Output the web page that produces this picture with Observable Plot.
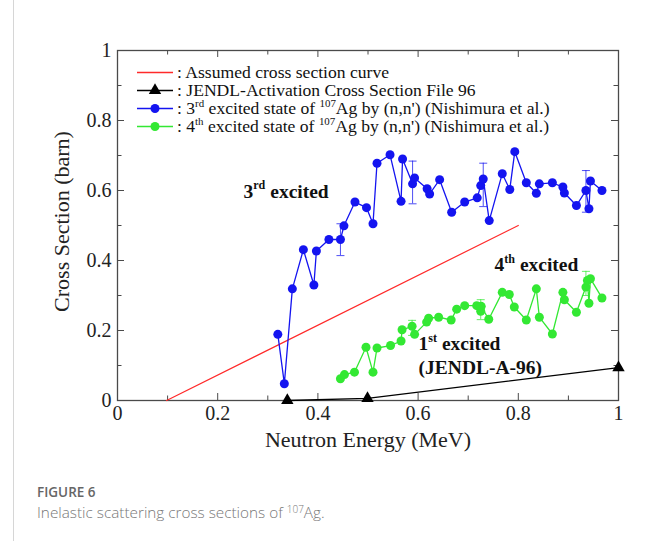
<!DOCTYPE html>
<html>
<head>
<meta charset="utf-8">
<script src="https://cdn.jsdelivr.net/npm/d3@7"></script>
<script src="https://cdn.jsdelivr.net/npm/@observablehq/plot@0.6"></script>
<style>
  body { margin: 0; background: #fff; }
  #wrap { position: relative; width: 654px; height: 541px; overflow: hidden; background: #fff; }
  #border { position: absolute; left: 13px; top: 0; width: 1px; height: 541px; background: #d6d6d6; }
  #chart { position: absolute; left: 0; top: 0; }
  #cap { position: absolute; left: 37px; top: 483px; font-family: "Open Sans", "Noto Sans", sans-serif; }
  #cap .fig { font-size: 13.5px; font-weight: 600; color: #666; line-height: 18px; }
  #cap .txt { font-size: 15.3px; font-weight: 300; color: #777; line-height: 22px; }
  #cap sup { font-size: 10px; vertical-align: 5px; line-height: 0; }
  svg text { white-space: pre; }
</style>
</head>
<body>
<div id="wrap">
  <div id="border"></div>
  <div id="chart"></div>
  <div id="cap"><div class="fig">FIGURE 6</div><div class="txt">Inelastic scattering cross sections of <sup>107</sup>Ag.</div></div>
</div>
<script>
// ---------- data ----------
const majorTicks = [0, 0.2, 0.4, 0.6, 0.8, 1];
const minorTicks = [0.1, 0.3, 0.5, 0.7, 0.9];
const tickLabels = ["0", "0.2", "0.4", "0.6", "0.8", "1"];

// Assumed cross section curve (red line)
const assumedE  = [0.098, 0.8];
const assumedXS = [0.0, 0.5];

// JENDL-Activation Cross Section File 96 (1st excited)
const jendlE  = [0.339, 0.499, 1.0];
const jendlXS = [0.0, 0.006, 0.094];

// 3rd excited state (blue)
const blueE  = [0.320,0.333,0.349,0.371,0.392,0.397,0.422,0.445,0.452,0.474,
                0.497,0.510,0.518,0.544,0.566,0.569,0.589,0.593,0.618,0.623,
                0.643,0.667,0.693,0.718,0.725,0.730,0.742,0.768,0.783,0.793,
                0.816,0.836,0.842,0.868,0.889,0.892,0.916,0.935,0.941,0.944,
                0.967];
const blueXS = [0.189,0.048,0.319,0.431,0.330,0.427,0.460,0.460,0.499,0.567,
                0.551,0.505,0.678,0.702,0.569,0.690,0.619,0.636,0.605,0.590,
                0.631,0.538,0.567,0.579,0.614,0.633,0.514,0.648,0.603,0.711,
                0.622,0.592,0.619,0.622,0.610,0.593,0.557,0.600,0.548,0.627,
                0.600];
const blueErrE  = [0.445, 0.589, 0.730, 0.935];
const blueErrLo = [0.414, 0.562, 0.554, 0.538];
const blueErrHi = [0.505, 0.684, 0.678, 0.657];

// 4th excited state (green)
const greenE  = [0.445,0.453,0.473,0.496,0.510,0.518,0.545,0.566,0.568,0.588,
                 0.593,0.617,0.621,0.641,0.666,0.677,0.693,0.717,0.725,0.726,
                 0.741,0.768,0.782,0.792,0.816,0.836,0.842,0.868,0.889,0.892,
                 0.916,0.935,0.938,0.941,0.944,0.967];
const greenXS = [0.062,0.074,0.081,0.152,0.081,0.150,0.157,0.170,0.202,0.212,
                 0.189,0.224,0.235,0.238,0.230,0.261,0.271,0.271,0.255,0.269,
                 0.232,0.309,0.303,0.267,0.230,0.319,0.238,0.190,0.309,0.288,
                 0.252,0.324,0.343,0.278,0.348,0.293];
const greenErrE  = [0.588, 0.725, 0.935];
const greenErrLo = [0.186, 0.231, 0.300];
const greenErrHi = [0.229, 0.288, 0.369];

// annotations
const annoText = ["3^{rd} excited", "4^{th} excited", "1^{st} excited", "(JENDL-A-96)"];
const annoE    = [0.2515, 0.7525, 0.601, 0.601];
const annoXS   = [0.580, 0.369, 0.143, 0.077];

// legend
const legendLabels = [
  ": Assumed cross section curve",
  ": JENDL-Activation Cross Section File 96",
  ": 3^{rd} excited state of ^{107}Ag by (n,n') (Nishimura et al.)",
  ": 4^{th} excited state of ^{107}Ag by (n,n') (Nishimura et al.)"
];

// ---------- styles ----------
const RED = "#ff2a2a", BLUE = "#1414f0", GREEN = "#33e833", BLACK = "#000";
const FRAME = "#4a4a4a";
const W = 654, H = 470, mL = 117, mR = 36, mT = 50, mB = 70;
const fw = W - mL - mR, fh = H - mT - mB;
const majX = 7 / fw, majY = 7 / fh, minX = 4.5 / fw, minY = 4.5 / fh;

const rows = (xs, ys) => xs.map((x, i) => ({x, y: ys[i]}));
const errRows = (xs, lo, hi) => xs.map((x, i) => ({x, lo: lo[i], hi: hi[i]}));
const capSymbol = { draw(ctx, size) { const r = Math.sqrt(size / Math.PI); ctx.moveTo(-r, 0); ctx.lineTo(r, 0); } };

const blueData = rows(blueE, blueXS), greenData = rows(greenE, greenXS);
const jendlData = rows(jendlE, jendlXS), assumedData = rows(assumedE, assumedXS);
const blueErr = errRows(blueErrE, blueErrLo, blueErrHi), greenErr = errRows(greenErrE, greenErrLo, greenErrHi);
const annos = annoText.map((t, i) => ({t, x: annoE[i], y: annoXS[i]}));

const errMarks = (data, color) => [
  Plot.ruleX(data, {x: "x", y1: "lo", y2: "hi", stroke: color, strokeWidth: 1, strokeOpacity: 0.75}),
  Plot.dot(data, {x: "x", y: "lo", symbol: capSymbol, r: 4, stroke: color, fill: "none", strokeWidth: 1, strokeOpacity: 0.75}),
  Plot.dot(data, {x: "x", y: "hi", symbol: capSymbol, r: 4, stroke: color, fill: "none", strokeWidth: 1, strokeOpacity: 0.75})
];

const tickRules = (ticks, len, kind) => kind === "x" ? [
  Plot.ruleX(ticks, {x: d => d, y1: 0, y2: len, stroke: FRAME, strokeWidth: 1}),
  Plot.ruleX(ticks, {x: d => d, y1: 1, y2: 1 - len, stroke: FRAME, strokeWidth: 1})
] : [
  Plot.ruleY(ticks, {y: d => d, x1: 0, x2: len, stroke: FRAME, strokeWidth: 1}),
  Plot.ruleY(ticks, {y: d => d, x1: 1, x2: 1 - len, stroke: FRAME, strokeWidth: 1})
];

const fmt = d => tickLabels[majorTicks.indexOf(d)];

const chart = Plot.plot({
  width: W, height: H,
  marginLeft: mL, marginRight: mR, marginTop: mT, marginBottom: mB,
  x: {domain: [0, 1]},
  y: {domain: [0, 1]},
  style: {fontFamily: "'Liberation Serif', 'Times New Roman', serif", fontSize: "20px", color: "#222", background: "transparent", overflow: "visible"},
  marks: [
    Plot.axisX({ticks: majorTicks, tickSize: 0, tickPadding: 5, tickFormat: fmt, label: null, fontSize: 20}),
    Plot.axisY({ticks: majorTicks, tickSize: 0, tickPadding: 6, tickFormat: fmt, label: null, fontSize: 20}),
    ...tickRules(majorTicks, majY, "x"),
    ...tickRules(minorTicks, minY, "x"),
    ...tickRules(majorTicks, majX, "y"),
    ...tickRules(minorTicks, minX, "y"),
    Plot.frame({stroke: FRAME, strokeWidth: 1.3}),
    Plot.text(["Neutron Energy (MeV)"], {frameAnchor: "bottom", dy: 46, fontSize: 22, fill: "#222"}),
    Plot.text(["Cross Section (barn)"], {frameAnchor: "left", textAnchor: "middle", dx: -56, dy: -4, rotate: -90, fontSize: 22, fill: "#222"}),
    // assumed curve
    Plot.line(assumedData, {x: "x", y: "y", stroke: RED, strokeWidth: 1.2}),
    // JENDL
    Plot.line(jendlData, {x: "x", y: "y", stroke: BLACK, strokeWidth: 1.3}),
    Plot.dot(jendlData, {x: "x", y: "y", symbol: "triangle", r: 4.6, fill: BLACK, stroke: "none"}),
    // blue
    ...errMarks(blueErr, BLUE),
    Plot.line(blueData, {x: "x", y: "y", stroke: BLUE, strokeWidth: 1.3}),
    Plot.dot(blueData, {x: "x", y: "y", r: 4.5, fill: BLUE, stroke: "none"}),
    // green
    ...errMarks(greenErr, GREEN),
    Plot.line(greenData, {x: "x", y: "y", stroke: GREEN, strokeWidth: 1.3}),
    Plot.dot(greenData, {x: "x", y: "y", r: 4.5, fill: GREEN, stroke: "none"}),
    // annotations
    Plot.text(annos, {x: "x", y: "y", text: "t", textAnchor: "start", lineAnchor: "bottom", fontWeight: "bold", fontSize: 19.5, fill: "#111"})
  ]
});

document.getElementById("chart").appendChild(chart);

const svgNS = "http://www.w3.org/2000/svg";
function setRich(el, str, fs) {
  const parts = str.split(/(\^\{[^}]*\})/);
  while (el.firstChild) el.removeChild(el.firstChild);
  const shift = 0.42 * fs;
  let raised = false;
  for (const p of parts) {
    if (!p) continue;
    const t = document.createElementNS(svgNS, "tspan");
    if (p.startsWith("^{")) {
      t.textContent = p.slice(2, -1);
      t.setAttribute("font-size", (0.62 * fs).toFixed(2));
      t.setAttribute("dy", raised ? 0 : -shift);
      raised = true;
    } else {
      t.textContent = p;
      if (raised) { t.setAttribute("dy", shift); raised = false; }
    }
    el.appendChild(t);
  }
}

// convert superscript markup in Plot text marks
d3.select(chart).selectAll("text").each(function () {
  const s = this.textContent;
  if (s.includes("^{")) setRich(this, s, parseFloat(getComputedStyle(this).fontSize));
});

// legend (inside frame, top-left)
const svg = d3.select(chart);
const LFS = 17.6;
const lg = svg.append("g")
  .attr("font-family", "'Liberation Serif', 'Times New Roman', serif")
  .attr("font-size", LFS).attr("fill", "#111").attr("text-anchor", "start");
const legendColors = [RED, BLACK, BLUE, GREEN];
const legendMarkers = [null, "triangle", "circle", "circle"];
const rowY0 = 72.5, rowStep = 18, lx0 = 137, lx1 = 173, tx = 177;
legendLabels.forEach((lab, i) => {
  const y = rowY0 + i * rowStep;
  lg.append("line").attr("x1", lx0).attr("x2", lx1).attr("y1", y).attr("y2", y)
    .attr("stroke", legendColors[i]).attr("stroke-width", 1.3);
  if (legendMarkers[i] === "circle") {
    lg.append("circle").attr("cx", (lx0 + lx1) / 2).attr("cy", y).attr("r", 4.5).attr("fill", legendColors[i]);
  } else if (legendMarkers[i] === "triangle") {
    lg.append("path").attr("transform", `translate(${(lx0 + lx1) / 2},${y})`)
      .attr("d", d3.symbol(d3.symbolTriangle, Math.PI * 4.6 * 4.6)()).attr("fill", legendColors[i]);
  }
  const t = lg.append("text").attr("x", tx).attr("y", y + 5.9).attr("text-anchor", "start").node();
  setRich(t, lab, LFS);
});
</script>
</body>
</html>
